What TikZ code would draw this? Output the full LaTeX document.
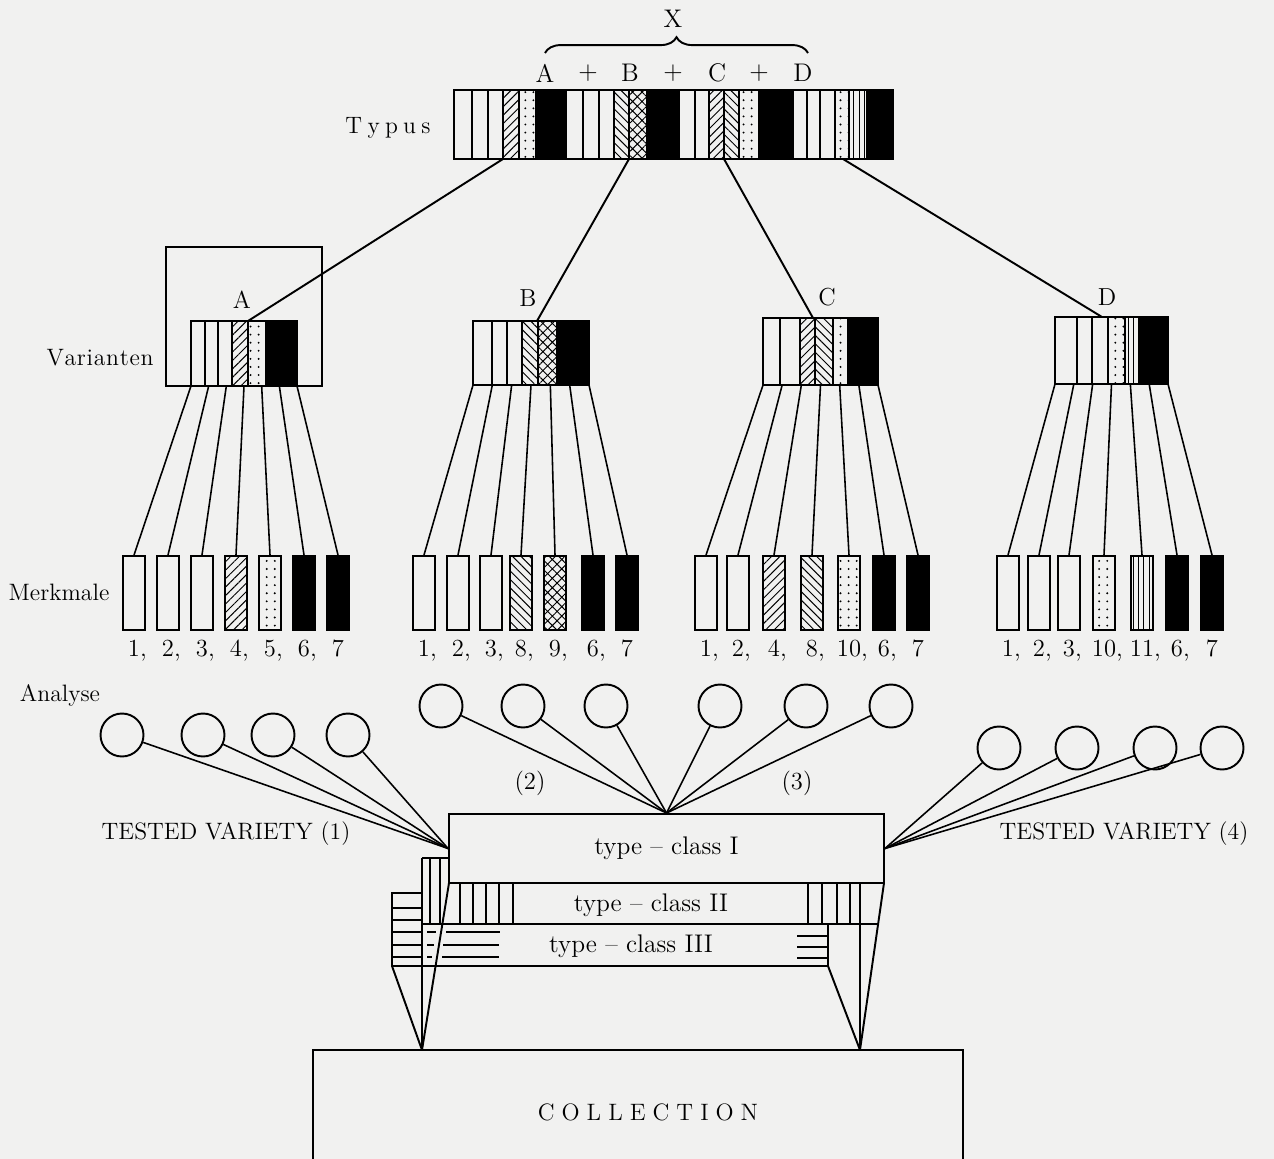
\documentclass[tikz,border=0pt]{standalone}
\usepackage{fontspec}
\usetikzlibrary{patterns.meta,decorations.pathreplacing}
\definecolor{paper}{RGB}{241,241,240}

\begin{document}
\begin{tikzpicture}[
  x=0.02cm, y=-0.02cm, line width=1.1pt,
  lbl/.style={font=\fontsize{14}{16}\selectfont, inner sep=0pt},
  side/.style={font=\fontsize{13.5}{16}\selectfont, inner sep=0pt},
  big/.style={font=\fontsize{14.5}{16}\selectfont, inner sep=0pt},
  cw/.style={},
  cne/.style={pattern={Lines[angle=45,distance=3.4pt,line width=0.55pt]}},
  cnw/.style={pattern={Lines[angle=-45,distance=3.4pt,line width=0.55pt]}},
  cx/.style={pattern={Hatch[angle=45,distance=3.8pt,line width=0.55pt]}},
  cd/.style={pattern={Dots[distance=4.6pt,radius=0.6pt]}},
  cv/.style={pattern={Lines[angle=90,distance=3pt,line width=0.5pt]}},
  cb/.style={fill=black},
  mk/.style={draw, minimum width=0.44cm, minimum height=1.48cm, inner sep=0pt},
  ana/.style={draw, circle, minimum size=0.86cm, inner sep=0pt},
  stem/.style={line width=0.9pt},
  cls/.style={draw, minimum width=8.7cm, minimum height=1.38cm, inner sep=0pt,
              font=\fontsize{14.5}{16}\selectfont}
]
\useasboundingbox (0,0) rectangle (1274,1159);
\fill[paper] (0,0) rectangle (1274,1159);

\node[big] (xlab) at (673,19) {X};
\coordinate (brL) at (545,53);
\coordinate (brR) at (808,53);
\draw[decorate, decoration={brace, amplitude=9pt}] (brL) -- (brR);
\foreach \x/\t [count=\i] in {545/A,588/+,630/B,673/+,717/C,759/+,803/D}
  \node[big] (sum\i) at (\x,73) {\t};
\node[side] (typus) at (388,128) {T\kern3pt y\kern3pt p\kern3pt u\kern3pt s};

\foreach \a/\b/\f in {454/472/cw,472/488/cw,488/503/cw,503/519/cne,519/536/cd,536/566/cb,
    566/583/cw,583/599/cw,599/614/cw,614/629/cnw,629/647/cx,647/679/cb,
    679/695/cw,695/709/cw,709/724/cne,724/739/cnw,739/759/cd,759/793/cb,
    793/807/cw,807/820/cw,820/835/cw,835/849/cd,849/867/cv,867/893/cb}
  \draw[\f] (\a,90) rectangle (\b,159);

\node[side] (var) at (100,358) {V\kern.4pt a\kern.4pt r\kern.4pt i\kern.4pt a\kern.4pt n\kern.4pt t\kern.4pt e\kern.4pt n};
\draw (166,247) rectangle (322,386);
\node[lbl] (labA) at (242,300) {A};
\node[lbl] (labB) at (528,298) {B};
\node[lbl] (labC) at (827,297) {C};
\node[lbl] (labD) at (1107,297) {D};

\foreach \a/\b/\f in {191/205/cw,205/218/cw,218/232/cw,232/248/cne,248/266/cd,266/297/cb}
  \draw[\f] (\a,321) rectangle (\b,386);
\foreach \a/\b/\f in {473/492/cw,492/507/cw,507/522/cw,522/538/cnw,538/557/cx,557/589/cb}
  \draw[\f] (\a,321) rectangle (\b,385);
\foreach \a/\b/\f in {763/780/cw,780/800/cw,800/815/cne,815/833/cnw,833/848/cd,848/878/cb}
  \draw[\f] (\a,318) rectangle (\b,385);
\foreach \a/\b/\f in {1055/1077/cw,1077/1092/cw,1092/1108/cw,1108/1125/cd,1125/1140/cv,1140/1168/cb}
  \draw[\f] (\a,317) rectangle (\b,384);

\coordinate (tA) at (503,159);
\coordinate (tB) at (629,159);
\coordinate (tC) at (724,159);
\coordinate (tD) at (843,159);
\coordinate (vA) at (248,321);
\coordinate (vB) at (537,321);
\coordinate (vC) at (813,318);
\coordinate (vD) at (1102,317);
\draw (tA) -- (vA);
\draw (tB) -- (vB);
\draw (tC) -- (vC);
\draw (tD) -- (vD);

\node[side] (merk) at (59,592) {Merkmale};
\foreach \x/\f/\lab [count=\i] in {134/cw/1\rlap{,},168/cw/2\rlap{,},202/cw/3\rlap{,},236/cne/4\rlap{,},270/cd/5\rlap{,},304/cb/6\rlap{,},338/cb/7} {
  \coordinate (va\i) at ({191+106*(\i-1)/6},386);
  \node[mk,\f] (ma\i) at (\x,593) {};
  \node[lbl,anchor=base] (la\i) at (\x,656) {\lab};
  \draw[stem] (va\i) -- (ma\i.north);
}
\foreach \x/\f/\lab [count=\i] in {424/cw/1\rlap{,},458/cw/2\rlap{,},491/cw/3\rlap{,},521/cnw/8\rlap{,},555/cx/9\rlap{,},593/cb/6\rlap{,},627/cb/7} {
  \coordinate (vb\i) at ({473+116*(\i-1)/6},385);
  \node[mk,\f] (mb\i) at (\x,593) {};
  \node[lbl,anchor=base] (lb\i) at (\x,656) {\lab};
  \draw[stem] (vb\i) -- (mb\i.north);
}
\foreach \x/\f/\lab [count=\i] in {706/cw/1\rlap{,},738/cw/2\rlap{,},774/cne/4\rlap{,},812/cnw/8\rlap{,},849/cd/10\rlap{,},884/cb/6\rlap{,},918/cb/7} {
  \coordinate (vc\i) at ({763+115*(\i-1)/6},385);
  \node[mk,\f] (mc\i) at (\x,593) {};
  \node[lbl,anchor=base] (lc\i) at (\x,656) {\lab};
  \draw[stem] (vc\i) -- (mc\i.north);
}
\foreach \x/\f/\lab [count=\i] in {1008/cw/1\rlap{,},1039/cw/2\rlap{,},1069/cw/3\rlap{,},1104/cd/10\rlap{,},1142/cv/11\rlap{,},1177/cb/6\rlap{,},1212/cb/7} {
  \coordinate (vd\i) at ({1055+113*(\i-1)/6},384);
  \node[mk,\f] (md\i) at (\x,593) {};
  \node[lbl,anchor=base] (ld\i) at (\x,656) {\lab};
  \draw[stem] (vd\i) -- (md\i.north);
}

\node[side] (anal) at (60,695) {Analyse};
\node[cls] (cls1) at (666.5,848.5) {type -- class I};
\node[big] (cls2) at (651,905) {type -- class II};
\node[big] (cls3) at (631,946) {type -- class III};

\foreach \x [count=\i] in {122,203,273,348} {
  \node[ana] (cl\i) at (\x,735) {};
  \draw[stem] (cl\i) -- (cls1.west);
}
\foreach \x [count=\i] in {441,523,606,720,806,891} {
  \node[ana] (cm\i) at (\x,706) {};
  \draw[stem] (cm\i) -- (cls1.north);
}
\foreach \x [count=\i] in {999,1077,1155,1222} {
  \node[ana] (cr\i) at (\x,748) {};
  \draw[stem] (cr\i) -- (cls1.east);
}
\node[lbl] (n2) at (530,783) {(2)};
\node[lbl] (n3) at (797,783) {(3)};
\node[side] (tv1) at (226,834) {TESTED VARIETY (1)};
\node[side] (tv4) at (1124,834) {TESTED VARIETY (4)};

\coordinate (cpL) at (422,1050);
\coordinate (cpR) at (860,1050);
\draw (422,858) -- (449,858);
\foreach \x in {430,440} \draw (\x,858) -- (\x,924);
\foreach \x in {460,473,486,499,513,808,822,837,850} \draw (\x,883) -- (\x,924);
\draw (422,924) -- (878,924);
\draw (422,893) -- (392,893) -- (392,966) -- (828,966) -- (828,924);
\foreach \y in {908,920,932,945,957} \draw (392,\y) -- (422,\y);
\draw (427,932) -- (436,932) (446,932) -- (500,932);
\draw (427,945) -- (434,945) (443,945) -- (499,945);
\draw (427,957) -- (432,957) (442,957) -- (499,957);
\foreach \y in {936,947,958} \draw (797,\y) -- (828,\y);
\draw (422,858) -- (cpL);
\draw (449,883) -- (cpL);
\draw (392,966) -- (cpL);
\draw (860,883) -- (cpR);
\draw (884,883) -- (cpR);
\draw (828,966) -- (cpR);

\draw (313,1159) -- (313,1050) -- (963,1050) -- (963,1159);
\node[side] (coll) at (648,1112) {C\kern4pt O\kern4pt L\kern4pt L\kern4pt E\kern4pt C\kern4pt T\kern4pt I\kern4pt O\kern4pt N};
\end{tikzpicture}
\end{document}
